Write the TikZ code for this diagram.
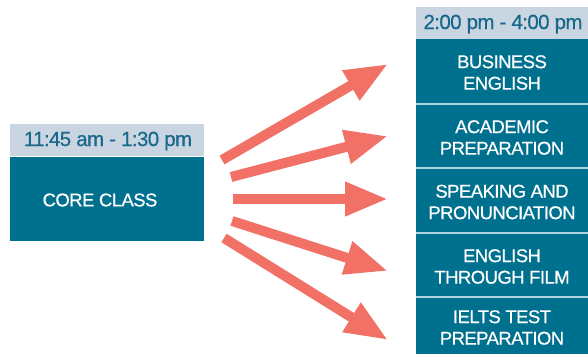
\documentclass[tikz,border=0pt]{standalone}
\usepackage{fontspec}
\setmainfont{Liberation Sans}
\newfontfamily\labelfont[LetterSpace=-3,FakeBold=0.5]{Liberation Sans}
\usetikzlibrary{arrows.meta}
\definecolor{teal}{HTML}{00708F}
\definecolor{hdr}{HTML}{C9D5E1}
\definecolor{hdrtext}{HTML}{17688A}
\definecolor{sep}{HTML}{B3D3E3}
\definecolor{salmon}{HTML}{F27166}
\begin{document}
\begin{tikzpicture}[x=1pt,y=1pt,
  hdrtxt/.style={text=hdrtext, inner sep=0pt, font=\labelfont\fontsize{20.5}{22}\selectfont},
  classtxt/.style={inner sep=0pt, text=white, align=center, font=\labelfont\fontsize{18.5}{21.5}\selectfont},
  fanarrow/.style={draw=salmon, line width=10pt, -{Triangle[length=43pt,width=32pt]}}
]
\useasboundingbox (0,0) rectangle (588,354);
% left column
\fill[hdr] (10,198) rectangle (204,230);
\node[hdrtxt] (lefthdr) at (108,213) {11:45 am - 1:30 pm};
\fill[teal] (10,113) rectangle (204,197);
\node[classtxt] (core) at (100,154) {CORE CLASS};
% right column
\fill[hdr] (416,315) rectangle (588,347);
\node[hdrtxt] (righthdr) at (503,330) {2:00 pm - 4:00 pm};
\fill[sep] (416,0) rectangle (588,315);
\fill[teal] (416,251) rectangle (588,315);
\fill[teal] (416,187) rectangle (588,249);
\fill[teal] (416,122) rectangle (588,185);
\fill[teal] (416,58) rectangle (588,120);
\fill[teal] (416,0) rectangle (588,56);
\node[classtxt] (b1) at (502,281.5) {BUSINESS\\ENGLISH};
\node[classtxt] (b2) at (502,216.5) {ACADEMIC\\PREPARATION};
\node[classtxt] (b3) at (502,152) {SPEAKING AND\\PRONUNCIATION};
\node[classtxt] (b4) at (502,87.5) {ENGLISH\\THROUGH FILM};
\node[classtxt] (b5) at (502,26.5) {IELTS TEST\\PREPARATION};
% arrows
\coordinate (s1) at (222,194); \coordinate (e1) at (388,290);
\coordinate (s2) at (231,177); \coordinate (e2) at (388,218);
\coordinate (s3) at (233,155); \coordinate (e3) at (388,155);
\coordinate (s4) at (232,133); \coordinate (e4) at (388,83);
\coordinate (s5) at (224,116); \coordinate (e5) at (388,14);
\foreach \i in {1,...,5} { \draw[fanarrow] (s\i) -- (e\i); }
\end{tikzpicture}
\end{document}
